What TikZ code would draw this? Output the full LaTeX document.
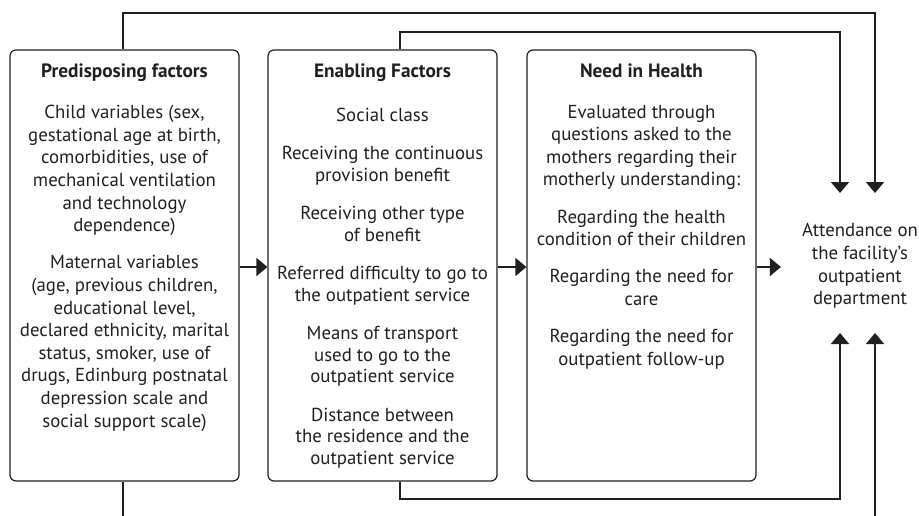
\documentclass[tikz,border=0pt]{standalone}
\usepackage{fontspec}
\setmainfont{PT Sans}
\usetikzlibrary{arrows.meta}
\definecolor{ink}{RGB}{35,31,32}
\begin{document}
\begin{tikzpicture}[x=1pt,y=-1pt,
  box/.style={draw=ink, line width=1.2pt, rounded corners=6pt, minimum width=229pt, minimum height=431pt, inner sep=0pt},
  ttl/.style={font=\fontsize{19.3}{21}\selectfont\bfseries, text=ink, anchor=base, inner sep=0pt},
  body/.style={font=\fontsize{18.8}{22.6}\selectfont, text=ink, align=center, anchor=base, inner sep=0pt},
  bodyb/.style={body, font=\fontsize{18.8}{21.5}\selectfont},
  conn/.style={draw=ink, line width=1.8pt},
  arr/.style={conn, -{Triangle[length=11pt,width=18pt]}},
]
\path[use as bounding box] (0,0) rectangle (919,515);
\clip (0,0) rectangle (919,515);

% boxes
\node[box] (b1) at (124.5,265.5) {};
\node[box] (b2) at (382.5,265.5) {};
\node[box] (b3) at (641.5,265.5) {};

% titles
\node[ttl] (t1) at (124.5,77) {Predisposing factors};
\node[ttl] (t2) at (382.5,77) {Enabling Factors};
\node[ttl] (t3) at (641.5,77) {Need in Health};

% bodies (anchored at the baseline of their last line)
\node[body] (p1) at (124.5,427) {Child variables (sex,\\gestational age at birth,\\comorbidities, use of\\mechanical ventilation\\and technology\\dependence)\\[14.5pt]Maternal variables\\(age, previous children,\\educational level,\\declared ethnicity, marital\\status, smoker, use of\\drugs, Edinburg postnatal\\depression scale and\\social support scale)};
\node[bodyb] (p2) at (382.5,464) {Social class\\[17pt]Receiving the continuous\\provision benefit\\[17pt]Receiving other type\\of benefit\\[17pt]Referred difficulty to go to\\the outpatient service\\[17pt]Means of transport\\used to go to the\\outpatient service\\[17pt]Distance between\\the residence and the\\outpatient service};
\node[body] (p3) at (641.5,365) {Evaluated through\\questions asked to the\\mothers regarding their\\motherly understanding:\\[14.5pt]Regarding the health\\condition of their children\\[14.5pt]Regarding the need for\\care\\[14.5pt]Regarding the need for\\outpatient follow-up};

% outcome
\node[body, anchor=center, inner xsep=21pt, inner ysep=0pt] (a) at (860,266) {Attendance on\\the facility’s\\outpatient\\department};

% helper coordinates
\coordinate (m) at (0,267);
\coordinate (c1) at (123,13);
\coordinate (c2) at (400,32);
\coordinate (c3) at (400,499);
\coordinate (c4) at (123,540);
\coordinate (d1) at (840,193);
\coordinate (d2) at (875,193);
\coordinate (u1) at (840,333);
\coordinate (u2) at (875,333);

% horizontal arrows
\draw[arr] (b1.east |- m) -- (b2.west |- m);
\draw[arr] (b2.east |- m) -- (b3.west |- m);
\draw[arr] (b3.east |- m) -- (a.west |- m);

% feedback connectors
\draw[arr] (c1 |- b1.north) -- (c1) -- (c1 -| d2) -- (d2);
\draw[arr] (c2 |- b2.north) -- (c2) -- (c2 -| d1) -- (d1);
\draw[arr] (c3 |- b2.south) -- (c3) -- (c3 -| u1) -- (u1);
\draw[arr] (c4 |- b1.south) -- (c4) -- (c4 -| u2) -- (u2);
\end{tikzpicture}
\end{document}
